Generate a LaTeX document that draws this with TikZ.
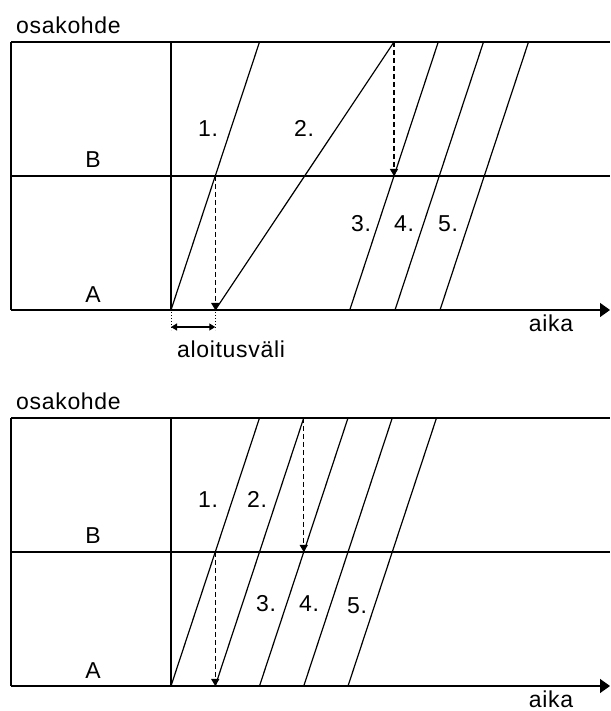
\documentclass[tikz,border=0pt]{standalone}
\usepackage{fontspec}
\setmainfont[LetterSpace=3]{Liberation Sans}
\usetikzlibrary{arrows.meta,positioning}

\begin{document}
\begin{tikzpicture}[
    x=1pt, y=1pt,
    font=\fontsize{23}{26}\selectfont,
    grid_line/.style={line width=1.4pt},
    task_line/.style={line width=1.2pt},
    axis_line/.style={line width=1.4pt, -{Triangle[length=10pt,width=14pt]}},
    move_arrow/.style={line width=1.2pt, dash pattern=on 5pt off 3pt, -{Triangle[length=7pt,width=8pt]}},
    gap_arrow/.style={line width=1.2pt, {Triangle[length=6pt,width=7pt]}-{Triangle[length=6pt,width=7pt]}},
    tick_line/.style={line width=1pt, dotted},
    lbl/.style={inner sep=0pt, anchor=base}
]
\useasboundingbox (0,0) rectangle (610,711);

% upper chart
\begin{scope}[yshift=401pt]
\coordinate (u_bl) at (11,0);
\coordinate (u_ml) at (11,134);
\coordinate (u_tl) at (11,268);
\coordinate (u_b0) at (171,0);
\coordinate (u_t0) at (171,268);
\coordinate (u_end) at (610,0);
\coordinate (u_mr) at (610,134);
\coordinate (u_tr) at (610,268);

\draw[grid_line] (u_tl) -- (u_bl);
\draw[grid_line] (u_t0) -- (u_b0);
\draw[grid_line] (u_tl) -- (u_tr);
\draw[grid_line] (u_ml) -- (u_mr);
\draw[axis_line] (u_bl) -- (u_end);

\coordinate (u1a) at (171,0);     \coordinate (u1b) at (259.5,268);
\coordinate (u1m) at (215.25,134);
\coordinate (u2a) at (215.25,0);  \coordinate (u2b) at (394,268);
\coordinate (u3a) at (349.75,0);  \coordinate (u3b) at (438.25,268);
\coordinate (u3m) at (394,134);
\coordinate (u4a) at (395,0);     \coordinate (u4b) at (483.5,268);
\coordinate (u5a) at (440,0);     \coordinate (u5b) at (528.5,268);

\draw[task_line] (u1a) -- (u1b);
\draw[task_line] (u2a) -- (u2b);
\draw[task_line] (u3a) -- (u3b);
\draw[task_line] (u4a) -- (u4b);
\draw[task_line] (u5a) -- (u5b);

\draw[move_arrow] (u1m) -- (u2a);
\draw[move_arrow] (u2b) -- (u3m);

\node[lbl] (u_n1) at (208,173) {1.};
\node[lbl] (u_n2) at (304,173) {2.};
\node[lbl] (u_n3) at (361,78) {3.};
\node[lbl] (u_n4) at (404,78) {4.};
\node[lbl] (u_n5) at (448,78) {5.};

\node[lbl, anchor=base west] (u_title) at (16,276) {osakohde};
\node[lbl] (u_B) at (93,142) {B};
\node[lbl] (u_A) at (93,7) {A};
\node[lbl] (u_time) at (551,-22) {aika};

\coordinate (u_g1) at (171,-2);
\coordinate (u_g2) at (215.25,-2);
\coordinate (u_g1d) at (171,-20);
\coordinate (u_g2d) at (215.25,-20);
\coordinate (u_h1) at (171,-17);
\coordinate (u_h2) at (215.25,-17);
\draw[tick_line] (u_g1) -- (u_g1d);
\draw[tick_line] (u_g2) -- (u_g2d);
\draw[gap_arrow] (u_h1) -- (u_h2);
\node[lbl] (u_gap) at (231,-48) {aloitusväli};
\end{scope}

% lower chart
\begin{scope}[yshift=25pt]
\coordinate (l_bl) at (11,0);
\coordinate (l_ml) at (11,134);
\coordinate (l_tl) at (11,268);
\coordinate (l_b0) at (171,0);
\coordinate (l_t0) at (171,268);
\coordinate (l_end) at (610,0);
\coordinate (l_mr) at (610,134);
\coordinate (l_tr) at (610,268);

\draw[grid_line] (l_tl) -- (l_bl);
\draw[grid_line] (l_t0) -- (l_b0);
\draw[grid_line] (l_tl) -- (l_tr);
\draw[grid_line] (l_ml) -- (l_mr);
\draw[axis_line] (l_bl) -- (l_end);

\foreach \k in {1,...,5} {
    \coordinate (l\k a) at ({171+44.25*(\k-1)},0);
    \coordinate (l\k m) at ({215.25+44.25*(\k-1)},134);
    \coordinate (l\k b) at ({259.5+44.25*(\k-1)},268);
    \draw[task_line] (l\k a) -- (l\k b);
}

\draw[move_arrow] (l1m) -- (l2a);
\draw[move_arrow] (l2b) -- (l3m);

\node[lbl] (l_n1) at (208,178) {1.};
\node[lbl] (l_n2) at (257,178) {2.};
\node[lbl] (l_n3) at (266,74) {3.};
\node[lbl] (l_n4) at (309,74) {4.};
\node[lbl] (l_n5) at (357,72) {5.};

\node[lbl, anchor=base west] (l_title) at (16,276) {osakohde};
\node[lbl] (l_B) at (93,142) {B};
\node[lbl] (l_A) at (93,7) {A};
\node[lbl] (l_time) at (551,-21) {aika};
\end{scope}
\end{tikzpicture}
\end{document}
